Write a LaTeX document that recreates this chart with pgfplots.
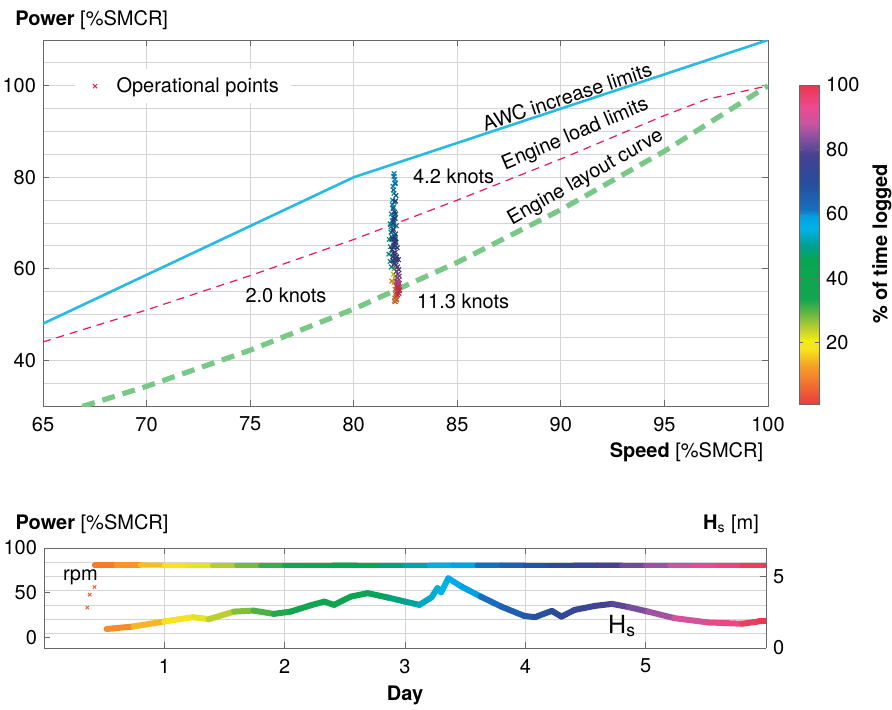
\documentclass[border=0pt]{standalone}
\usepackage{fontspec}
\setmainfont{TeX Gyre Heros}
\usepackage{pgfplots}
\pgfplotsset{compat=1.18}
\definecolor{awc}{RGB}{38,186,228}
\definecolor{eload}{RGB}{232,24,88}
\definecolor{elay}{RGB}{122,200,135}
\definecolor{gridc}{RGB}{212,212,212}
\definecolor{axc}{RGB}{105,105,105}
\definecolor{opred}{RGB}{232,30,80}
\definecolor{rpmx}{RGB}{240,100,60}
\newcommand\fnt{\fontsize{10pt}{12pt}\selectfont}
\pgfplotsset{colormap={timecol}{
 rgb255(0cm)=(235,60,65) rgb255(6cm)=(240,110,50) rgb255(12cm)=(245,160,40)
 rgb255(17cm)=(247,225,30) rgb255(20cm)=(240,235,25) rgb255(24cm)=(185,205,50)
 rgb255(29cm)=(90,180,70) rgb255(33cm)=(20,165,80) rgb255(45cm)=(10,165,80)
 rgb255(50cm)=(0,160,150) rgb255(55cm)=(0,178,232) rgb255(59cm)=(0,160,225)
 rgb255(61cm)=(25,110,190) rgb255(70cm)=(40,75,155) rgb255(78cm)=(70,65,145)
 rgb255(83cm)=(130,80,160) rgb255(88cm)=(200,85,160) rgb255(93cm)=(235,75,145)
 rgb255(100cm)=(235,55,75)}}
\pgfplotsset{
 mystyle/.style={
  scale only axis,
  tick align=inside, major tick length=3pt, minor tick length=0pt,
  axis line style={axc}, every tick/.style={axc},
  major grid style={draw=gridc}, minor grid style={draw=gridc},
  tick label style={font=\fnt},
  xticklabel style={yshift=-2pt},
  /pgf/number format/assume math mode=true,
  colormap name=timecol, point meta min=1, point meta max=100,
  clip mode=individual,
 }
}
\pgfplotstableread{
x y c
82.00 52.8 5
82.06 53.2 6
81.98 53.6 7
82.04 54.0 8
82.08 53.4 9
82.02 54.4 10
81.96 53.0 11
82.06 54.8 12
81.84 57.3 12.5
82.00 55.5 13
82.04 56.2 14
81.95 57.0 16
82.02 57.8 18
81.92 58.8 20
82.00 58.4 22
81.96 60.0 24
82.03 61.6 26
81.92 62.8 28
82.00 61.8 30
81.96 61.0 32
82.02 62.4 34
81.93 64.6 36
81.98 66.8 38
82.02 66.0 40
81.94 69.4 42
81.98 71.8 44
82.00 71.0 46
81.76 69.8 47
81.80 68.0 48
81.72 66.4 49
81.78 64.8 50
81.70 63.2 51
81.76 61.6 51.5
81.82 60.4 52
81.84 67.0 52.5
81.86 70.5 53
81.82 72.0 53.5
81.92 73.5 54
81.88 75.0 54.5
81.94 76.5 55
81.90 78.0 55.5
81.98 79.5 56
81.95 80.8 56.5
82.00 78.8 57
81.86 74.0 57.5
81.90 71.2 58
81.80 69.2 58.5
81.84 66.4 59
81.94 80.2 60
82.00 78.6 60.5
81.92 77.2 61
82.04 76.0 61.5
81.96 74.6 62
81.90 73.2 62.5
82.02 72.0 63
81.94 70.6 63.5
82.06 69.4 64
81.88 68.2 64.5
81.98 67.0 65
82.04 65.8 65.5
81.92 64.8 66
82.00 63.6 66.5
81.88 62.6 67
82.06 62.0 67.5
81.94 65.2 68
82.02 67.6 68.5
81.90 70.0 69
81.98 72.4 69.5
82.02 74.8 70
81.96 71.0 71
81.92 68.6 72
82.00 66.4 73
81.86 66.6 74
81.94 65.8 74.5
82.02 65.0 75
82.10 64.6 75.5
81.84 64.2 76
81.92 63.4 76.5
82.00 63.0 77
82.08 62.6 77.5
82.16 62.0 78
81.88 61.8 78.5
81.96 61.2 79
82.04 60.8 79.5
82.12 60.4 80
82.18 59.8 81
82.06 59.4 82
82.14 58.8 83
82.20 58.4 84
82.10 58.0 85
82.18 57.6 86
82.06 57.2 87
82.14 57.0 88
82.20 56.8 89
82.10 56.6 90
82.16 56.4 91
82.08 56.2 93
82.16 55.8 94
82.22 55.4 95
82.10 55.0 96
82.18 54.6 97
82.12 54.3 98
82.20 55.2 99
82.14 56.0 100
}\oppoints
\pgfplotstableread{
d p c
0.42 80.9 7
0.6 80.9 10
0.8 80.9 13.3
1.0 80.8 16.7
1.2 80.8 20
1.4 80.8 23.3
1.6 80.8 26.7
1.8 80.8 30
2.0 80.8 33.3
2.2 80.8 36.7
2.4 80.8 40
2.6 80.7 43.3
2.8 80.7 46.7
3.0 80.7 50
3.2 80.7 53.3
3.4 80.8 56.7
3.6 80.6 60
3.8 80.7 63.3
4.0 80.8 66.7
4.2 80.8 70
4.4 80.8 73.3
4.6 80.7 76.7
4.8 80.8 80
5.0 80.8 83.3
5.2 80.8 86.7
5.4 80.8 90
5.6 80.8 93.3
5.8 80.8 96.7
6.0 80.8 100
}\rpmdata
\pgfplotstableread{
d h c
0.52 1.33 8.7
0.745 1.51 12.4
1.0 1.86 16.7
1.24 2.16 20.7
1.37 2.02 22.8
1.58 2.55 26.3
1.74 2.62 29
1.91 2.39 31.8
2.05 2.55 34.2
2.22 3.0 37
2.33 3.25 38.8
2.41 3.02 40.2
2.55 3.6 42.5
2.69 3.84 44.8
2.86 3.53 47.7
3.0 3.25 50
3.12 3.02 52
3.22 3.55 53.7
3.27 4.19 54.5
3.3 3.9 55
3.36 4.88 56
3.47 4.30 57.8
3.63 3.6 60.5
3.8 2.9 63.3
3.99 2.25 66.5
4.08 2.16 68
4.22 2.6 70.3
4.3 2.2 71.7
4.41 2.67 73.5
4.58 2.95 76.3
4.72 3.09 78.7
4.86 2.86 81
5.02 2.55 83.7
5.24 2.09 87.3
5.52 1.79 92
5.8 1.70 96.7
5.94 1.86 99
6.0 1.86 100
}\hsdata
\begin{document}
\fnt
\begin{tikzpicture}
\useasboundingbox (-21.5pt,-151.5pt) rectangle (424.5pt,203pt);
% ---------- top axis ----------
\begin{axis}[mystyle,
  at={(0pt,0pt)}, anchor=south west,
  width=362.5pt, height=183pt,
  xmin=65, xmax=100, ymin=30, ymax=110,
  xtick={65,70,...,100}, ytick={40,60,80,100}, minor ytick={30,35,...,110},
  xmajorgrids, ymajorgrids, yminorgrids,
  colorbar,
  colorbar style={
    scale only axis,
    at={(parent axis.north east)}, anchor=north west,
    xshift=7pt, yshift=-22.5pt,
    width=10pt, height=159.5pt,
    ytick={20,40,60,80,100},
    axis line style={axc}, every tick/.style={axc},
    major tick length=2pt,
    tick label style={font=\fnt},
    /pgf/number format/assume math mode=true,
  },
  legend style={at={(0.044,0.874)}, anchor=west, draw=none, fill=white, font=\fnt, inner xsep=4pt},
  legend image code/.code={\draw[#1] plot coordinates {(0.2cm,0cm)}; \path (0cm,0cm) (0.5cm,0cm);},
]
\addlegendimage{only marks, mark=x, mark size=1.5pt, color=opred, mark options={line width=0.5pt}}
\addlegendentry{Operational points}
\addplot[forget plot, color=awc, line width=1.3pt] coordinates {(65,48) (80,80) (100,110)};
\addplot[forget plot, color=eload, line width=0.6pt, dash pattern=on 4pt off 3pt] coordinates {(65,44) (70,51) (75,58.5) (80,66.4) (85,75) (90,84) (95,93.5) (97,97) (100,100)};
\addplot[forget plot, color=elay, line width=2.6pt, dash pattern=on 6.5pt off 4pt] coordinates {(66.9,29.9) (70,34.3) (75,42.2) (80,51.2) (85,61.4) (90,72.9) (95,85.7) (100,100)};
\addplot[forget plot, scatter, only marks, mark=x, mark size=1.6pt, mark options={line width=0.6pt}, scatter src=explicit] table[x=x, y=y, meta=c] {\oppoints};
\node[rotate=18.4, font=\fnt] at (axis cs:90.3,97.6) {AWC increase limits};
\node[rotate=23, font=\fnt] at (axis cs:90.7,89.3) {Engine load limits};
\node[rotate=29.5, font=\fnt] at (axis cs:91.2,79.9) {Engine layout curve};
\node[anchor=west, font=\fnt] at (axis cs:82.53,80.1) {4.2 knots};
\node[font=\fnt] at (axis cs:76.73,54.2) {2.0 knots};
\node[anchor=west, font=\fnt] at (axis cs:82.72,52.9) {11.3 knots};
\node[anchor=base west, font=\fnt] at (axis description cs:-0.048,1.041) {\textbf{Power} [\%SMCR]};
\node[anchor=base east, font=\fnt] at (axis description cs:1.003,-0.142) {\textbf{Speed} [\%SMCR]};
\node[rotate=90, font=\fnt\bfseries] at (axis description cs:1.157,0.443) {\% of time logged};
\end{axis}
% ---------- bottom axis (left: power) ----------
\begin{axis}[mystyle,
  at={(0.5pt,-121pt)}, anchor=south west,
  width=361pt, height=50pt,
  xmin=0, xmax=6, ymin=-12, ymax=100,
  xtick={1,2,...,5}, ytick={0,50,100}, minor ytick={4,20,36,52,68,84},
  xmajorgrids, yminorgrids,
  axis y line*=left,
]
\addplot[mesh, point meta=explicit, line width=2.6pt, line cap=round] table[x=d, y=p, meta=c] {\rpmdata};
\addplot[only marks, mark=x, mark size=1.2pt, color=rpmx, mark options={line width=0.5pt}] coordinates {(0.36,33.3) (0.38,47.8) (0.42,56.3)};
\node[anchor=base west, font=\fnt] at (axis cs:0.1,64) {rpm};
\node[anchor=base west, font=\fnt] at (axis description cs:-0.049,1.19) {\textbf{Power} [\%SMCR]};
\node[anchor=base, font=\fnt\bfseries] at (axis description cs:0.5,-0.52) {Day};
\end{axis}
% ---------- bottom axis (right: Hs) ----------
\begin{axis}[mystyle,
  at={(0.5pt,-121pt)}, anchor=south west,
  width=361pt, height=50pt,
  xmin=0, xmax=6, ymin=0, ymax=7,
  axis x line=none, axis y line*=right,
  ytick={0,5},
]
\addplot[mesh, point meta=explicit, line width=3pt, line cap=round] table[x=d, y=h, meta=c] {\hsdata};
\node[anchor=base west, font=\fontsize{12.5pt}{14pt}\selectfont] at (axis cs:4.63,1.05) {H\textsubscript{s}};
\node[anchor=base east, font=\fnt] at (axis description cs:1,1.19) {\textbf{H}\textsubscript{s} [m]};
\end{axis}
\end{tikzpicture}
\end{document}
